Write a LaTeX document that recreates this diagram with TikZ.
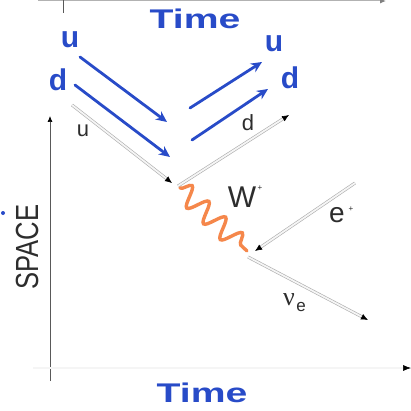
\documentclass[tikz,border=0pt]{standalone}
\usepackage{fontspec}
\setmainfont{Liberation Sans}
\newfontfamily\greekserif{Liberation Serif}
\usetikzlibrary{arrows.meta,decorations.pathmorphing}
\definecolor{pen}{RGB}{40,75,200}
\definecolor{wboson}{RGB}{245,135,75}
\definecolor{lblc}{RGB}{45,45,45}
\begin{document}
\begin{tikzpicture}[x=1pt,y=-1pt,
  fermion/.style={draw=gray!65, line width=0.6pt, double=gray!8, double distance=1.8pt,
    -{Latex[length=7pt,width=6pt,black]}},
  handarrow/.style={pen, line width=2.8pt, line cap=round, -{Stealth[length=11pt,width=10pt]}},
  handtext/.style={text=pen, font=\fontsize{30}{30}\selectfont\bfseries},
  timetext/.style={text=pen, xscale=1.45, font=\fontsize{27}{27}\selectfont\bfseries},
  lbl/.style={text=lblc, font=\fontsize{22}{22}\selectfont, inner sep=0pt},
  axis/.style={draw=gray!70!black, line width=0.7pt}]
\useasboundingbox (0,0) rectangle (411,411);
\fill[white] (0,0) rectangle (411,411);
% top axis
\coordinate (ta0) at (38,1);
\coordinate (ta1) at (386,1);
\coordinate (tk0) at (63,0);
\coordinate (tk1) at (63,13);
\draw[draw=gray!60, line width=1pt, -{Latex[length=6pt,width=5pt,gray]}] (ta0) -- (ta1);
\draw[axis] (tk0) -- (tk1);
% space axis
\coordinate (va0) at (50,381);
\coordinate (va1) at (50,116);
\draw[axis, -{Latex[length=6pt,width=5pt,black]}] (va0) -- (va1);
% time axis
\coordinate (ha0) at (33,368);
\coordinate (ha1) at (411,368);
\draw[draw=gray!65, line width=0.6pt, double=gray!8, double distance=1.6pt, -{Latex[length=8pt,width=6pt,black]}] (ha0) -- (ha1);
% texts
\node[timetext] (ttop) at (195,19) {Time};
\node[timetext] (tbot) at (202,393) {Time};
\node[rotate=90, text=lblc, font=\fontsize{32}{32}\selectfont, inner sep=0pt] (space) at (27,247) {\scalebox{0.8}[1]{SPACE}};
\fill[pen] (3,213) circle (2);
% blue quarks
\node[handtext] (ul) at (70,40) {u};
\node[handtext] (dl) at (58,80) {d};
\node[handtext] (ur) at (274,44) {u};
\node[handtext] (dr) at (290,78) {d};
\coordinate (a1s) at (80,57);  \coordinate (a1e) at (167,122);
\coordinate (a2s) at (75,85);  \coordinate (a2e) at (170,157);
\coordinate (a3s) at (190,108); \coordinate (a3e) at (262,62);
\coordinate (a4s) at (192,140); \coordinate (a4e) at (268,89);
\draw[handarrow] (a1s) -- (a1e);
\draw[handarrow] (a2s) -- (a2e);
\draw[handarrow] (a3s) -- (a3e);
\draw[handarrow] (a4s) -- (a4e);
% Feynman diagram
\coordinate (uin) at (72,105);
\coordinate (v1in) at (172,183);
\coordinate (v1out) at (178,186);
\coordinate (dout) at (289,115);
\coordinate (w0) at (180,188);
\coordinate (w1) at (247,251);
\coordinate (ein) at (355,183);
\coordinate (v2in) at (255,251);
\coordinate (v2out) at (248,257);
\coordinate (nuout) at (368,320);
\draw[fermion] (uin) -- (v1in);
\draw[fermion] (v1out) -- (dout);
\draw[fermion] (ein) -- (v2in);
\draw[fermion] (v2out) -- (nuout);
\draw[wboson, line width=3.4pt, line cap=round, decorate,
  decoration={snake, segment length=23pt, amplitude=10pt}] (w0) -- (w1);
\node[lbl] (lu) at (83,131) {u};
\node[lbl] (ld) at (248,123) {d};
\node[lbl, font=\fontsize{30}{30}\selectfont] (lw) at (242,197) {W};
\node[lbl, font=\fontsize{8}{8}\selectfont] (lwp) at (260,188) {+};
\node[lbl, font=\fontsize{28}{28}\selectfont] (le) at (337,215) {e};
\node[lbl, font=\fontsize{8}{8}\selectfont] (lep) at (351,209) {+};
\node[lbl, font=\fontsize{26}{26}\selectfont\greekserif] (lnu) at (289,300) {ν};
\node[lbl, font=\fontsize{17}{17}\selectfont] (lnue) at (301,307) {e};
\end{tikzpicture}
\end{document}
